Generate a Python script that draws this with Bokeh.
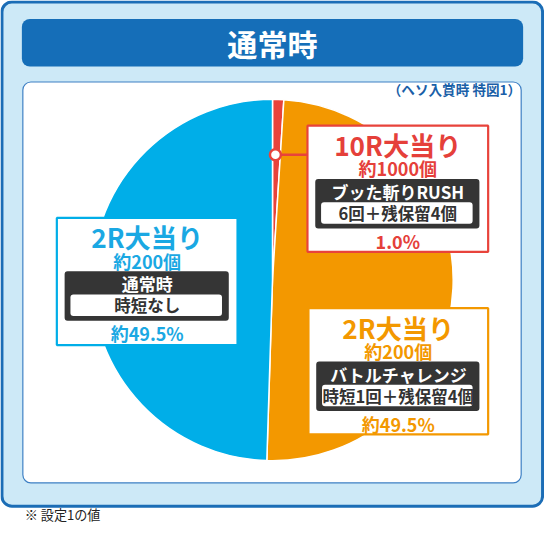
from bokeh.plotting import figure
from bokeh.models import Range1d
from bokeh.core.properties import value
from bokeh.embed import file_html
from bokeh.resources import INLINE
import math

# ---------------- data ----------------
title_text = "通常時"
note_text = "（ヘソ入賞時 特図1）"
foot_text = "※ 設定1の値"

slice_names = ["10R大当り", "2R大当り", "2R大当り"]
slice_pcts = [1.0, 49.5, 49.5]
slice_payouts = ["約1000個", "約200個", "約200個"]
slice_modes = ["ブッた斬りRUSH", "バトルチャレンジ", "通常時"]
slice_details = ["6回＋残保留4個", "時短1回＋残保留4個", "時短なし"]
pct_labels = ["1.0%", "約49.5%", "約49.5%"]
slice_colors = ["#e8433b", "#f39800", "#00aee8"]
text_colors = ["#e5403a", "#f39800", "#1aa8e3"]

# ---------------- layout helpers ----------------
W, H = 560, 543
PW, PH = 544, 527
FONT = "'Noto Sans CJK JP'"
SC = PW / W


def Y(y):
    return H - y


def fs(n):
    return value(f"{n * SC:.1f}px")


p = figure(width=PW, height=PH, x_range=Range1d(0, W), y_range=Range1d(0, H),
           output_backend="svg", toolbar_location=None, min_border=0,
           x_axis_location=None, y_axis_location=None)
p.grid.visible = False
p.outline_line_color = None
p.background_fill_color = "white"
p.border_fill_color = "white"


def box(l, t, r, b, fill, line=None, lw=0, rad=0):
    p.quad(left=[l], right=[r], top=[Y(t)], bottom=[Y(b)], fill_color=fill,
           line_color=line, line_width=lw, border_radius=rad)


def txt(x, y, s, size, color, bold=True, align="center"):
    p.text(x=[x], y=[Y(y)], text=[s], text_align=align, text_baseline="middle",
           text_font=value(FONT), text_font_size=fs(size),
           text_color=color, text_font_style="bold" if bold else "normal")


# frame
box(1.5, 1.5, 558, 521, "#cde9f7", "#1b6db6", 3, 10)
box(22, 19, 538, 68, "#156eb8", None, 0, 8)
txt(280, 44, title_text, 31, "white")
box(23, 84, 536, 497, "white", "#3f80c4", 1.2, 8)
txt(536, 91, note_text, 14, "#1a5fa8", align="right")
txt(25, 530, foot_text, 13.5, "#222222", bold=False, align="left")

# pie
cx, cy, R = 280, 288, 186
total = sum(slice_pcts)
cum = 0.0
starts, ends = [], []
for v in slice_pcts:
    starts.append(math.pi / 2 - 2 * math.pi * cum / total)
    cum += v
    ends.append(math.pi / 2 - 2 * math.pi * cum / total)
p.wedge(x=[cx] * 3, y=[Y(cy)] * 3, radius=R, radius_units="data",
        start_angle=starts, end_angle=ends, direction="clock",
        fill_color=slice_colors, line_color="white", line_width=1.5)

# connector for the small slice
p.line([283, 316], [Y(159), Y(159)], line_color=slice_colors[0], line_width=2.5)
p.scatter([283], [Y(159)], size=11, fill_color="white",
          line_color=slice_colors[0], line_width=2.5)

# label boxes: (left, top, right, bottom)
boxes = [(316, 129, 502, 259), (317, 317, 502, 447), (58, 224, 244, 355)]
for i, (l, t, r, b) in enumerate(boxes):
    c = (l + r) / 2
    box(l, t, r, b, "white", slice_colors[i], 2.2, 0)
    txt(c, t + 20, slice_names[i], 27, text_colors[i])
    txt(c, t + 44, slice_payouts[i], 18.5, text_colors[i])
    box(l + 8, t + 55, r - 9, t + 106, "#353535", None, 0, 3)
    txt(c, t + 68, slice_modes[i], 17.5, "white")
    box(l + 14, t + 79, r - 16, t + 101, "white", None, 0, 3)
    txt(c, t + 90, slice_details[i], 17, "#333333")
    txt(c, t + 119, pct_labels[i], 18.5, text_colors[i])

open("out.html", "w").write(file_html(p, INLINE))
